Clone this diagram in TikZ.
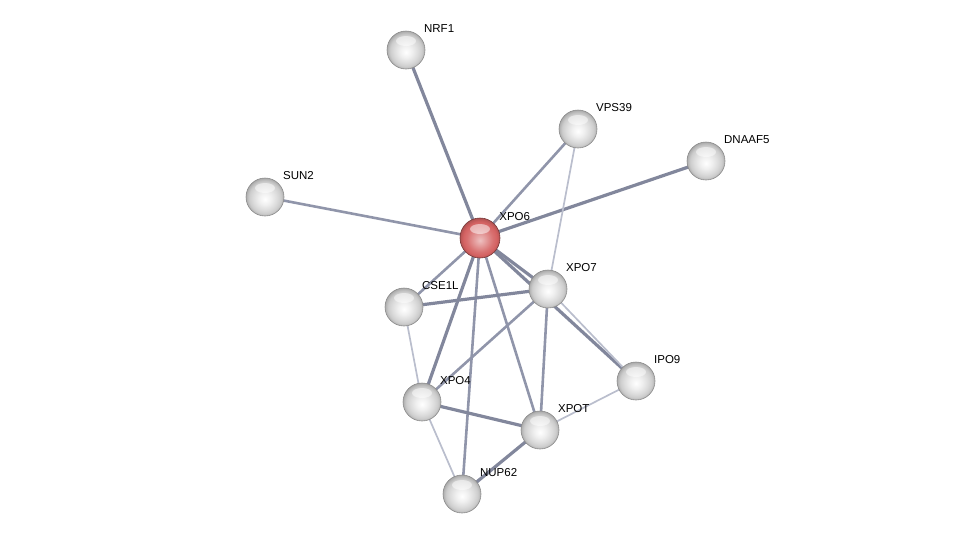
\documentclass[tikz,border=0pt]{standalone}
\usepackage{fontspec}
\setmainfont{Liberation Sans}
\usetikzlibrary{positioning, backgrounds}

\definecolor{edgedark}{RGB}{130,135,156}
\definecolor{edgemid}{RGB}{144,149,170}
\definecolor{edgelight}{RGB}{186,190,205}
\definecolor{hubred}{RGB}{212,98,98}

\pgfdeclareradialshading{glass}{\pgfpoint{0bp}{-3bp}}{%
  color(0bp)=(white); color(8bp)=(black!6); color(16bp)=(black!14);
  color(21bp)=(black!20); color(25bp)=(black!32); color(28bp)=(black!45); color(30bp)=(black!50)}
\pgfdeclareradialshading{glassred}{\pgfpoint{0bp}{-3bp}}{%
  color(0bp)=(hubred!40!white); color(8bp)=(hubred!65!white); color(16bp)=(hubred!90!white);
  color(21bp)=(hubred); color(25bp)=(hubred!85!black); color(28bp)=(hubred!70!black); color(30bp)=(hubred!60!black)}

\begin{document}
\begin{tikzpicture}[x=1pt, y=-1pt, font=\fontsize{11.5}{13}\selectfont, node distance=0pt]
    \tikzset{prot/.style={circle, minimum size=38pt, inner sep=0pt, outer sep=0pt,
        shading=glass, draw=black!45, line width=0.6pt,
        path picture={\fill[white, opacity=0.5]
          ([yshift=9pt]path picture bounding box.center) ellipse [x radius=10pt, y radius=5pt];}},
      hub/.style={prot, minimum size=40pt, shading=glassred, draw=hubred!55!black},
      lbl/.style={inner sep=1pt},
      strong/.style={draw=edgedark, line width=3.2pt},
      normal/.style={draw=edgemid, line width=2.6pt},
      weak/.style={draw=edgelight, line width=1.7pt}}
    \useasboundingbox (0,0) rectangle (976,539);
    % proteins
    \node[hub] (xpo6) at (480,238) {};
    \node[prot] (nrf1) at (406,50) {};
    \node[prot] (vps39) at (578,129) {};
    \node[prot] (dnaaf5) at (706,161) {};
    \node[prot] (sun2) at (265,197) {};
    \node[prot] (xpo7) at (548,289) {};
    \node[prot] (cse1l) at (404,307) {};
    \node[prot] (ipo9) at (636,381) {};
    \node[prot] (xpo4) at (422,402) {};
    \node[prot] (xpot) at (540,430) {};
    \node[prot] (nup62) at (462,494) {};
    % names
    \node[lbl, above right=2pt and 4pt of xpo6] (xpo6-l) {XPO6};
    \node[lbl, above right=3pt and 3.5pt of nrf1] (nrf1-l) {NRF1};
    \node[lbl, above right=3pt and 3.5pt of vps39] (vps39-l) {VPS39};
    \node[lbl, above right=3pt and 3.5pt of dnaaf5] (dnaaf5-l) {DNAAF5};
    \node[lbl, above right=3pt and 3.5pt of sun2] (sun2-l) {SUN2};
    \node[lbl, above right=3pt and 3.5pt of xpo7] (xpo7-l) {XPO7};
    \node[lbl, above right=3pt and 3.5pt of cse1l] (cse1l-l) {CSE1L};
    \node[lbl, above right=3pt and 3.5pt of ipo9] (ipo9-l) {IPO9};
    \node[lbl, above right=3pt and 3.5pt of xpo4] (xpo4-l) {XPO4};
    \node[lbl, above right=3pt and 3.5pt of xpot] (xpot-l) {XPOT};
    \node[lbl, above right=3pt and 3.5pt of nup62] (nup62-l) {NUP62};
    % interactions
    \begin{scope}[on background layer]
      \draw[strong] (xpo6.center) -- (nrf1.center);
      \draw[normal] (xpo6.center) -- (vps39.center);
      \draw[strong] (xpo6.center) -- (dnaaf5.center);
      \draw[normal] (xpo6.center) -- (sun2.center);
      \draw[strong] (xpo6.center) -- (xpo7.center);
      \draw[strong] (xpo6.center) -- (ipo9.center);
      \draw[normal] (xpo6.center) -- (cse1l.center);
      \draw[strong] (xpo6.center) -- (xpo4.center);
      \draw[normal] (xpo6.center) -- (nup62.center);
      \draw[normal] (xpo6.center) -- (xpot.center);
      \draw[weak] (vps39.center) -- (xpo7.center);
      \draw[strong] (cse1l.center) -- (xpo7.center);
      \draw[weak] (cse1l.center) -- (xpo4.center);
      \draw[weak] (xpo7.center) -- (ipo9.center);
      \draw[normal] (xpo7.center) -- (xpo4.center);
      \draw[normal] (xpo7.center) -- (xpot.center);
      \draw[strong] (xpo4.center) -- (xpot.center);
      \draw[weak] (xpo4.center) -- (nup62.center);
      \draw[strong] (xpot.center) -- (nup62.center);
      \draw[weak] (xpot.center) -- (ipo9.center);
    \end{scope}
  \end{tikzpicture}
\end{document}
